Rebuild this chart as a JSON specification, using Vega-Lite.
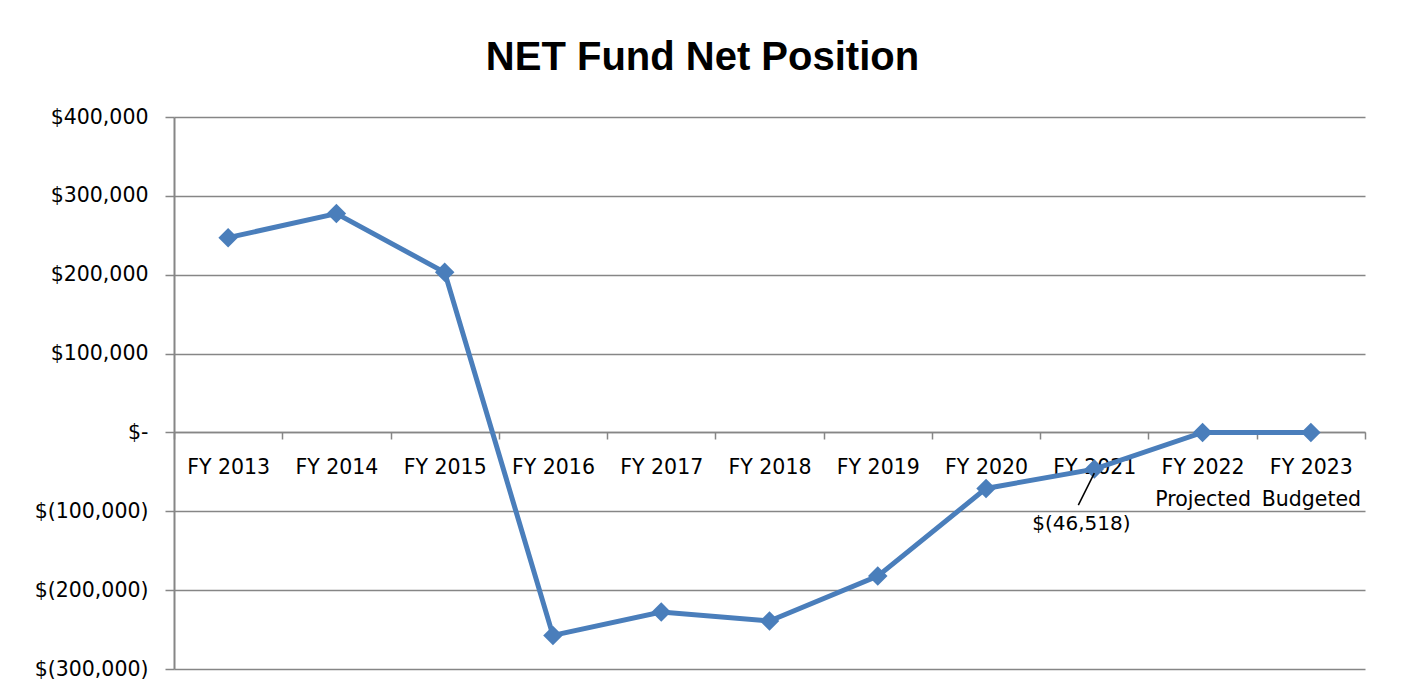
{
  "$schema": "https://vega.github.io/schema/vega-lite/v6.json",
  "autosize": {"type": "none"},
  "width": 1191,
  "height": 552,
  "padding": {"left": 174, "top": 117, "right": 36, "bottom": 27},
  "background": "white",
  "title": {
    "text": "NET Fund Net Position",
    "font": "Liberation Sans",
    "fontSize": 40,
    "fontWeight": "bold",
    "color": "#000000",
    "anchor": "middle",
    "frame": "group",
    "baseline": "alphabetic",
    "offset": -3,
    "dx": -67
  },
  "data": {
    "values": [
      {"year": "FY 2013", "value": 247000},
      {"year": "FY 2014", "value": 277500},
      {"year": "FY 2015", "value": 203000},
      {"year": "FY 2016", "value": -257400},
      {"year": "FY 2017", "value": -227800},
      {"year": "FY 2018", "value": -239200},
      {"year": "FY 2019", "value": -182200},
      {"year": "FY 2020", "value": -71000},
      {"year": "FY 2021", "value": -46518},
      {"year": "FY 2022", "value": 0},
      {"year": "FY 2023", "value": 0}
    ]
  },
  "encoding": {
    "x": {
      "field": "year",
      "type": "nominal",
      "sort": null,
      "scale": {"type": "band", "paddingInner": 0, "paddingOuter": 0},
      "axis": {
        "title": null,
        "orient": "bottom",
        "offset": -237,
        "domainColor": "#868686",
        "domainWidth": 1.5,
        "tickColor": "#868686",
        "tickWidth": 1.5,
        "tickSize": 7,
        "tickBand": "extent",
        "labelAngle": 0,
        "labelFont": "DejaVu Sans",
        "labelFontSize": 20.5,
        "labelColor": "#000000",
        "labelBaseline": "alphabetic",
        "labelPadding": 34,
        "labelLineHeight": 32,
        "labelExpr": "datum.value == 'FY 2022' ? ['FY 2022', 'Projected'] : datum.value == 'FY 2023' ? ['FY 2023', 'Budgeted'] : datum.value",
        "grid": false
      }
    },
    "y": {
      "field": "value",
      "type": "quantitative",
      "scale": {"domain": [-300000, 400000], "nice": false, "zero": false},
      "axis": {
        "title": null,
        "values": [-300000, -200000, -100000, 0, 100000, 200000, 300000, 400000],
        "grid": true,
        "gridColor": "#868686",
        "gridWidth": 1.5,
        "domainColor": "#868686",
        "domainWidth": 2,
        "tickColor": "#868686",
        "tickWidth": 1.5,
        "tickSize": 9,
        "labelFont": "DejaVu Sans",
        "labelFontSize": 20.5,
        "labelColor": "#000000",
        "labelPadding": 17,
        "labelExpr": "datum.value < 0 ? '$(' + format(-datum.value, ',') + ')' : datum.value == 0 ? '$-\u00a0\u00a0\u00a0' : '$' + format(datum.value, ',') + '\u00a0'"
      }
    }
  },
  "layer": [
    {
      "mark": {
        "type": "line",
        "color": "#4A7EBB",
        "strokeWidth": 5,
        "point": {"shape": "diamond", "size": 380, "filled": true, "color": "#4A7EBB", "opacity": 1}
      }
    },
    {
      "transform": [{"filter": "datum.year == 'FY 2021'"}],
      "mark": {"type": "rule", "color": "#000000", "strokeWidth": 1.5, "yOffset": 4, "x2Offset": -16, "y2Offset": 36},
      "encoding": {
        "x2": {"field": "year"},
        "y2": {"field": "value"}
      }
    },
    {
      "transform": [{"filter": "datum.year == 'FY 2021'"}],
      "mark": {"type": "text", "font": "DejaVu Sans", "fontSize": 20, "color": "#000000", "dx": -13, "dy": 55, "align": "center", "baseline": "middle"},
      "encoding": {
        "text": {"value": "$(46,518)"}
      }
    }
  ],
  "config": {
    "view": {"stroke": null}
  }
}
